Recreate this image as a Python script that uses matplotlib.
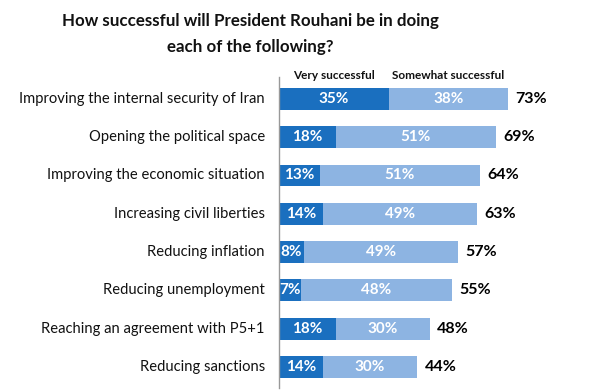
import matplotlib
matplotlib.use("Agg")
import matplotlib.pyplot as plt

categories = [
    "Improving the internal security of Iran",
    "Opening the political space",
    "Improving the economic situation",
    "Increasing civil liberties",
    "Reducing inflation",
    "Reducing unemployment",
    "Reaching an agreement with P5+1",
    "Reducing sanctions",
]
very = [35, 18, 13, 14, 8, 7, 18, 14]
somewhat = [38, 51, 51, 49, 49, 48, 30, 30]
totals = [73, 69, 64, 63, 57, 55, 48, 44]
series_names = ["Very successful", "Somewhat successful"]

dark = "#1a6fbf"
light = "#8db4e2"
font = ["Lato", "DejaVu Sans"]
plt.rcParams['font.family'] = font

W, H = 606, 390
fig = plt.figure(figsize=(W / 100, H / 100), dpi=100)
ax = fig.add_axes([279 / W, (H - 388) / H, (W - 279) / W, (388 - 77) / H])

y = list(range(len(categories)))
ax.barh(y, very, height=0.57, color=dark)
ax.barh(y, somewhat, left=very, height=0.57, color=light)

ax.set_xlim(0, (W - 279) / 3.14)
ax.set_ylim(7.55, -0.57)

for i in y:
    ax.text(very[i] / 2, i, f"{very[i]}%", ha="center", va="center",
            color="white", fontsize=11, fontweight="bold")
    ax.text(very[i] + somewhat[i] / 2, i, f"{somewhat[i]}%", ha="center",
            va="center", color="white", fontsize=11, fontweight="bold")
    ax.text(totals[i] + 2.3, i, f"{totals[i]}%", ha="left", va="center",
            color="black", fontsize=11.5, fontweight="bold")
    ax.text(-4.5, i, categories[i], ha="right", va="center", color="#111111",
            fontsize=10.65)

ax.text(very[0] / 2, -0.6, series_names[0], ha="center", va="center",
        fontsize=8.5, fontweight="bold", color="#111111")
ax.text(very[0] + somewhat[0] / 2, -0.6, series_names[1], ha="center",
        va="center", fontsize=8.5, fontweight="bold", color="#111111")

for s in ["top", "right", "bottom"]:
    ax.spines[s].set_visible(False)
ax.spines["left"].set_color("#999999")
ax.spines["left"].set_linewidth(1)
ax.set_xticks([])
ax.set_yticks([])

fig.text(250 / W, 1 - 21 / H, "How successful will President Rouhani be in doing",
         ha="center", va="center", fontsize=12.2, fontweight="bold", color="#111111")
fig.text(250 / W, 1 - 47 / H, "each of the following?",
         ha="center", va="center", fontsize=12.2, fontweight="bold", color="#111111")

fig.savefig("out.png", dpi=100, facecolor="white")
